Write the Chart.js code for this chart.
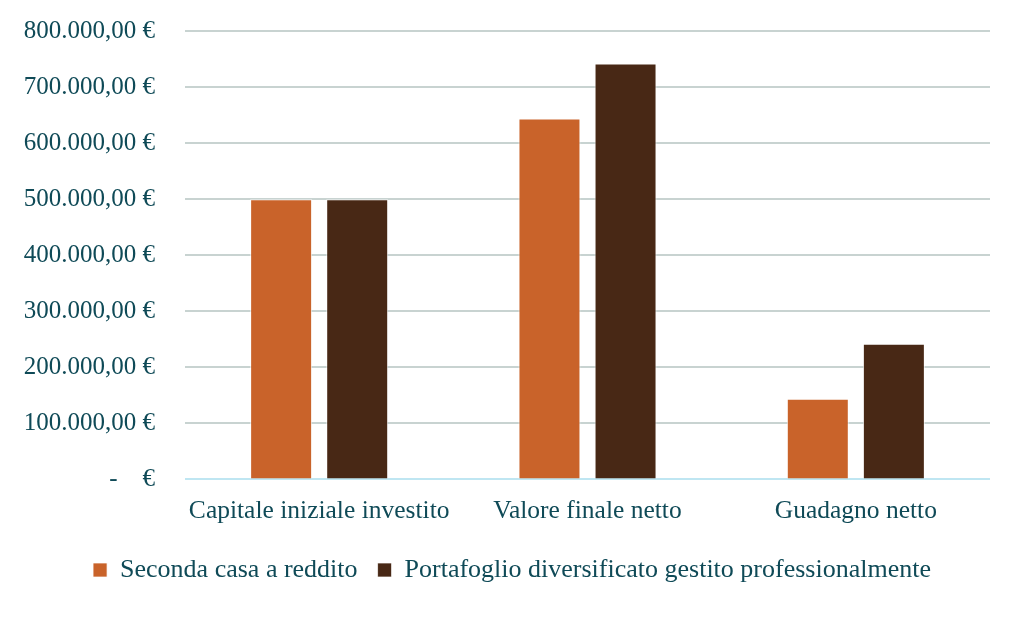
<!DOCTYPE html>
<html>
<head>
<meta charset="utf-8">
<script src="https://cdn.jsdelivr.net/npm/chart.js@4"></script>
<style>
  html, body { margin: 0; padding: 0; background: #ffffff; }
  #wrap { width: 1024px; height: 617px; }
</style>
</head>
<body>
<div id="wrap"><canvas id="chart"></canvas></div>
<script>
const categories = ['Capitale iniziale investito', 'Valore finale netto', 'Guadagno netto'];
const secondaCasa = [500000, 644000, 144000];
const portafoglio = [500000, 742000, 242000];
const seriesNames = ['Seconda casa a reddito', 'Portafoglio diversificato gestito professionalmente'];
const yTicks = [0, 100000, 200000, 300000, 400000, 500000, 600000, 700000, 800000];

const textColor = '#0f4a57';
const fontFamily = '"Liberation Serif", "DejaVu Serif", serif';

// 500000 -> "500.000,00 €", 0 -> "-   €"
function euro(v) {
  if (v === 0) return '-    €';
  const int = Math.round(v).toString().replace(/\B(?=(\d{3})+(?!\d))/g, '.');
  return int + ',00 €';
}

new Chart(document.getElementById('chart'), {
  type: 'bar',
  data: {
    labels: categories,
    datasets: [
      {
        label: seriesNames[0],
        data: secondaCasa,
        backgroundColor: '#c9632a',
        borderColor: 'rgba(255,255,255,0.7)',
        borderWidth: 1,
        categoryPercentage: 0.567,
        barPercentage: 0.815
      },
      {
        label: seriesNames[1],
        data: portafoglio,
        backgroundColor: '#482815',
        borderColor: 'rgba(255,255,255,0.7)',
        borderWidth: 1,
        categoryPercentage: 0.567,
        barPercentage: 0.815
      }
    ]
  },
  options: {
    responsive: true,
    maintainAspectRatio: false,
    animation: false,
    layout: { padding: { top: 0, right: 0, bottom: 24, left: 0 } },
    plugins: {
      legend: {
        position: 'bottom',
        labels: {
          color: textColor,
          font: { family: fontFamily, size: 26 },
          boxWidth: 14,
          boxHeight: 14,
          padding: 20
        }
      },
      tooltip: { enabled: false }
    },
    scales: {
      x: {
        afterFit: (scale) => { scale.paddingRight = 34; scale.height -= 7; },
        grid: { display: false, drawTicks: false },
        border: { display: false },
        ticks: {
          color: textColor,
          font: { family: fontFamily, size: 25.5 },
          padding: 17,
          maxRotation: 0,
          autoSkip: false
        }
      },
      y: {
        min: 0,
        max: 800000,
        afterBuildTicks: (scale) => { scale.ticks = yTicks.map(v => ({ value: v })); },
        afterFit: (scale) => { scale.width = 185; scale.paddingTop = 31; scale.paddingBottom = 0; },
        border: { display: false },
        grid: {
          drawTicks: false,
          lineWidth: 2,
          color: (ctx) => ctx.tick && ctx.tick.value === 0 ? '#bfe6f2' : '#c8d3d1'
        },
        ticks: {
          color: textColor,
          font: { family: fontFamily, size: 25 },
          padding: 30,
          callback: (v) => euro(v)
        }
      }
    }
  }
});
</script>
</body>
</html>
